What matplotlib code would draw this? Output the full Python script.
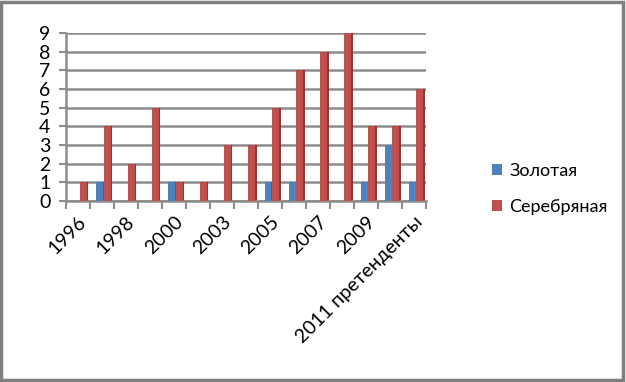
import numpy as np
import matplotlib
matplotlib.use('Agg')
from matplotlib import pyplot as plt
from matplotlib.patches import Rectangle

plt.rcParams['font.family'] = ['Lato', 'DejaVu Sans']

years = ['1996', '1997', '1998', '1999', '2000', '2002', '2003', '2004',
         '2005', '2006', '2007', '2008', '2009', '2010', '2011 претенденты']
gold = [0, 1, 0, 0, 1, 0, 0, 0, 1, 1, 0, 0, 1, 3, 1]
silver = [1, 4, 2, 5, 1, 1, 3, 3, 5, 7, 8, 9, 4, 4, 6]

blue = '#4F81BD'
red = '#C0504D'

fig = plt.figure(figsize=(6.26, 3.82), dpi=100)
ax = fig.add_axes([0.105, 0.474, 0.576, 0.44])

x = np.arange(len(years))
w = 0.29
# front faces + darker side faces to mimic the 3D look
ax.bar(x - w / 2 + 0.06, gold, w, color=blue, label='Золотая', zorder=3)
ax.bar(x - w / 2 + 0.06 + w * 0.5 + 0.02, gold, w * 0.25, color='#3A6496', zorder=2)
ax.bar(x + w / 2 + 0.08, silver, w, color=red, label='Серебряная', zorder=3)
ax.bar(x + w / 2 + 0.08 + w * 0.5 + 0.03, silver, w * 0.25, color='#8C3836', zorder=2)

ax.set_xlim(-0.5, len(years) - 0.5)
ax.set_ylim(0, 9)
ax.set_yticks(range(0, 10))
ax.yaxis.grid(True, color='#8C8C8C', linewidth=1.8, zorder=0)
ax.set_axisbelow(True)

ax.set_xticks(x[::2])
ax.set_xticklabels(years[::2], rotation=45, ha='right', rotation_mode='anchor', fontsize=14)
ax.set_xticks(np.arange(-0.5, len(years)), minor=True)
ax.tick_params(axis='x', which='major', length=0, pad=9)
ax.tick_params(axis='x', which='minor', length=6, color='#8C8C8C', width=1.5)
ax.tick_params(axis='y', length=5, color='#8C8C8C', width=1.5, labelsize=14, pad=6)

for s in ['top', 'right']:
    ax.spines[s].set_visible(False)
for s in ['left', 'bottom']:
    ax.spines[s].set_color('#8C8C8C')
    ax.spines[s].set_linewidth(1.8)

handles, labels = ax.get_legend_handles_labels()
fig.legend(handles, labels, loc='center left', bbox_to_anchor=(0.76, 0.505),
           frameon=False, fontsize=13, handlelength=0.55, handleheight=0.55,
           labelspacing=1.1, handletextpad=0.4)

fig.patches.append(Rectangle((0.002, 0.004), 0.994, 0.992, transform=fig.transFigure,
                             fill=False, edgecolor='#7F7F7F', linewidth=2.5))

fig.savefig('out.png', dpi=100)
